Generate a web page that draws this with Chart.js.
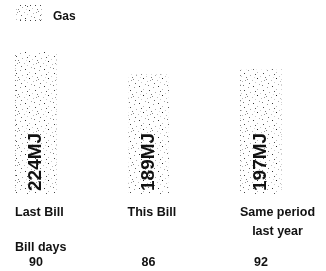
<!DOCTYPE html>
<html>
<head>
<meta charset="utf-8">
<script src="https://cdn.jsdelivr.net/npm/chart.js@4/dist/chart.umd.min.js"></script>
<style>
  html, body { margin: 0; padding: 0; background: #fff; }
  #wrap { width: 326px; height: 271px; }
</style>
</head>
<body>
<div id="wrap"><canvas id="chart"></canvas></div>
<script>
const seriesName = "Gas";
const categories = [["Last Bill"], ["This Bill"], ["Same period", "last year"]];
const usage = [224, 189, 197];
const usageUnit = "MJ";
const billDaysTitle = "Bill days";
const billDays = [90, 86, 92];

// speckled texture like the printed bill
function makeSpeckle() {
    const c = document.createElement("canvas");
    c.width = 19; c.height = 17;
    const g = c.getContext("2d");
    g.fillStyle = "#fff";
    g.fillRect(0, 0, 19, 17);
    const dots = [
        [1, 2, "#999"], [6, 1, "#333"], [10, 4, "#bbb"], [15, 0, "#777"],
        [3, 7, "#aaa"], [8, 6, "#555"], [13, 8, "#ccc"], [0, 11, "#888"],
        [5, 12, "#bbb"], [10, 10, "#222"], [17, 12, "#999"], [2, 15, "#666"],
        [8, 14, "#ccc"], [12, 16, "#aaa"], [16, 5, "#444"], [14, 13, "#bbb"],
        [7, 9, "#ddd"], [18, 9, "#777"]
    ];
    dots.forEach(d => { g.fillStyle = d[2]; g.fillRect(d[0], d[1], 1, 1); });
    return g.createPattern(c, "repeat");
}

function makeDotted() {
    const c = document.createElement("canvas");
    c.width = 5; c.height = 5;
    const g = c.getContext("2d");
    g.fillStyle = "#fff";
    g.fillRect(0, 0, 5, 5);
    g.fillStyle = "#444";
    g.fillRect(0, 0, 1, 1);
    g.fillStyle = "#999";
    g.fillRect(3, 2, 1, 1);
    g.fillStyle = "#bbb";
    g.fillRect(1, 4, 1, 1);
    return g.createPattern(c, "repeat");
}

const speckle = makeSpeckle();
const dotted = makeDotted();

const labelsPlugin = {
    id: "billLabels",
    afterDatasetsDraw(chart) {
        const ctx = chart.ctx;
        const meta = chart.getDatasetMeta(0);
        ctx.save();
        ctx.fillStyle = "#111";

        // values written up the bars
        ctx.font = "bold 19px 'Liberation Sans', Arial, sans-serif";
        ctx.textAlign = "left";
        ctx.textBaseline = "middle";
        meta.data.forEach((bar, i) => {
            ctx.save();
            ctx.translate(bar.x, bar.base - 3);
            ctx.rotate(-Math.PI / 2);
            ctx.fillText(usage[i] + usageUnit, 0, 0);
            ctx.restore();
        });

        // category names under the bars, block starts at bar left edge
        ctx.font = "bold 12.5px 'Liberation Sans', Arial, sans-serif";
        meta.data.forEach((bar, i) => {
            const lines = categories[i];
            const left = bar.x - bar.width / 2;
            const w = Math.max(...lines.map(l => ctx.measureText(l).width));
            ctx.textAlign = "center";
            lines.forEach((line, j) => {
                ctx.fillText(line, left + w / 2, bar.base + 19 + j * 19);
            });
        });

        // bill days row
        ctx.textAlign = "left";
        ctx.fillText(billDaysTitle, 15, 248);
        ctx.textAlign = "center";
        meta.data.forEach((bar, i) => {
            ctx.fillText(String(billDays[i]), bar.x, 263);
        });

        // legend
        ctx.fillStyle = speckle;
        ctx.fillRect(16, 5, 26, 16);
        ctx.strokeStyle = dotted;
        ctx.lineWidth = 1;
        ctx.strokeRect(16.5, 5.5, 25, 15);
        ctx.fillStyle = "#111";
        ctx.textAlign = "left";
        ctx.font = "bold 12px 'Liberation Sans', Arial, sans-serif";
        ctx.fillText(seriesName, 53, 17);
        ctx.restore();
    }
};

new Chart(document.getElementById("chart"), {
    type: "bar",
    data: {
        labels: categories.map(c => c.join(" ")),
        datasets: [{
            label: seriesName,
            data: usage,
            backgroundColor: speckle,
            borderColor: dotted,
            borderWidth: 1,
            barThickness: 42,
            clip: false
        }]
    },
    options: {
        responsive: true,
        maintainAspectRatio: false,
        animation: false,
        layout: { padding: { left: 36, right: 65, top: 40, bottom: 77 } },
        plugins: { legend: { display: false }, tooltip: { enabled: false } },
        scales: {
            x: { display: false, offset: false },
            y: { display: false, min: 0, max: 242 }
        }
    },
    plugins: [labelsPlugin]
});
</script>
</body>
</html>
